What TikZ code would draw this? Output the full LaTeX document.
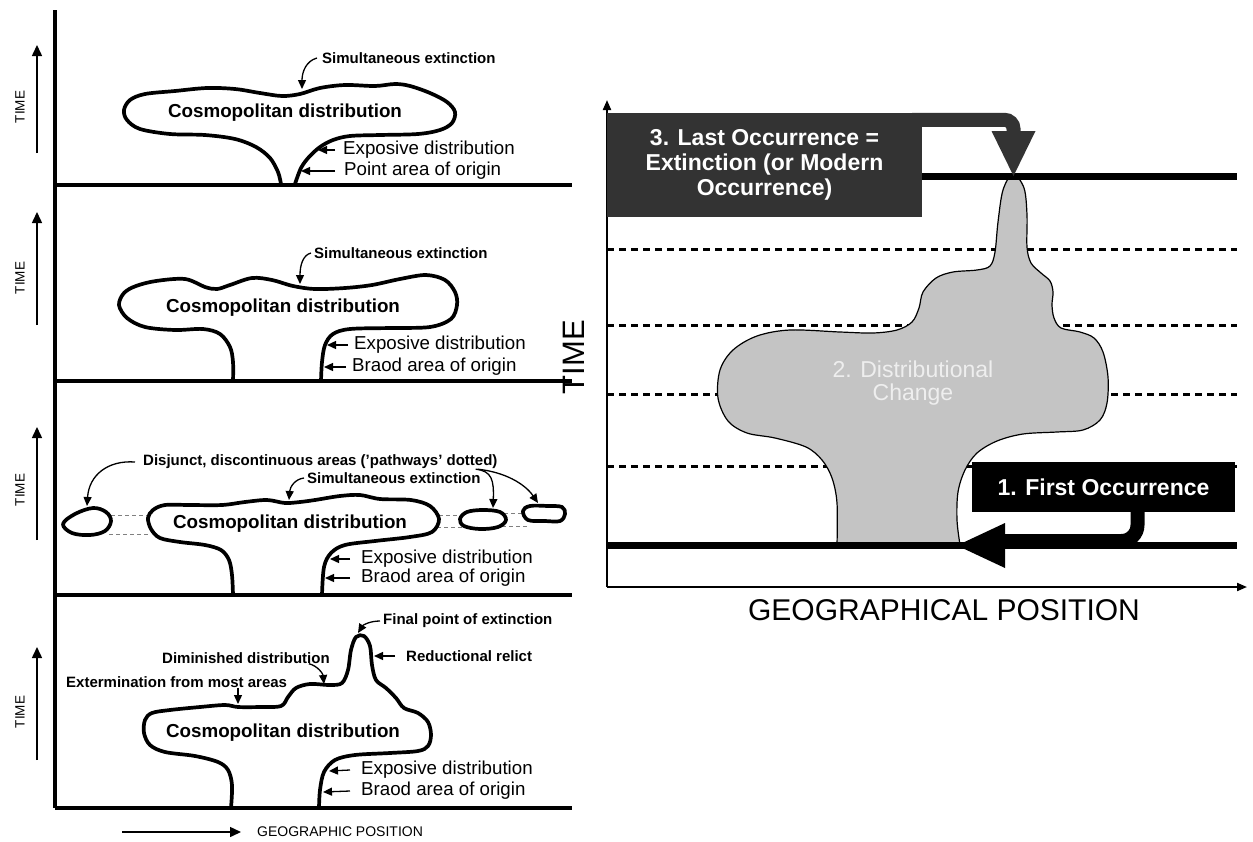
\documentclass[tikz,border=0pt]{standalone}
\usepackage{fontspec}
\setmainfont{Liberation Sans}
\usetikzlibrary{arrows.meta}
\definecolor{boxdark}{RGB}{51,51,51}
\definecolor{blobgray}{RGB}{196,196,196}
\definecolor{dtext}{RGB}{238,238,238}
\begin{document}
\begin{tikzpicture}[x=1pt,y=-1pt,
  blob/.style={line width=3.7pt, line join=round, line cap=round},
  lab/.style={inner sep=0pt, anchor=west, font=\fontsize{18.7}{20}\selectfont},
  blab/.style={inner sep=0pt, anchor=west, font=\bfseries\fontsize{15}{17}\selectfont},
  cosmo/.style={inner sep=0pt, font=\bfseries\fontsize{18.8}{20}\selectfont},
  tlab/.style={inner sep=0pt, rotate=90, font=\fontsize{13.5}{15}\selectfont},
  sarr/.style={line width=1.3pt, -{Triangle[length=9pt,width=8pt]}},
  tarr/.style={line width=1.5pt, -{Triangle[length=11pt,width=10pt]}},
  axl/.style={line width=3.7pt},
  pathdash/.style={gray, line width=0.8pt, dash pattern=on 4pt off 3pt},
  raxis/.style={line width=2pt, -{Triangle[length=10pt,width=8pt]}},
  tdash/.style={line width=3pt, dash pattern=on 7pt off 5pt},
  thickline/.style={line width=6.5pt},
  box3/.style={fill=boxdark, text=white, inner sep=0pt, minimum width=315pt, minimum height=104pt, align=center, font=\bfseries\fontsize{23}{25}\selectfont},
  box1/.style={fill=black, text=white, inner sep=0pt, minimum width=263pt, minimum height=50pt, font=\bfseries\fontsize{23}{25}\selectfont},
]
\useasboundingbox (0,0) rectangle (1253,841);

% ---------------- left: axes ----------------
\draw[axl] (55,10) -- (55,808);
\draw[axl] (55,185) -- (572,185);
\draw[axl] (55,381) -- (572,381);
\draw[axl] (55,595) -- (572,595);
\draw[axl] (55,808) -- (572,808);

% TIME arrows
\coordinate (t1s) at (37,153); \coordinate (t1e) at (37,45);
\coordinate (t2s) at (37,325); \coordinate (t2e) at (37,212);
\coordinate (t3s) at (37,540); \coordinate (t3e) at (37,427);
\coordinate (t4s) at (37,760); \coordinate (t4e) at (37,647);
\draw[tarr] (t1s) -- (t1e);
\draw[tarr] (t2s) -- (t2e);
\draw[tarr] (t3s) -- (t3e);
\draw[tarr] (t4s) -- (t4e);
\node[tlab] (time1) at (20,107) {TIME};
\node[tlab] (time2) at (20,278) {TIME};
\node[tlab] (time3) at (20,490) {TIME};
\node[tlab] (time4) at (20,712) {TIME};

% ---------------- panel 1 ----------------
\draw[blob] plot[smooth, tension=0.55] coordinates {(281,184) (278,172) (270,158) (256,147) (235,139) (205,135) (170,134) (140,129) (127,120) (124,110) (130,100) (145,94) (175,91) (207,88) (235,89) (260,93) (282,96) (300,94) (320,88) (345,85) (375,86) (395,84) (410,86) (430,93) (447,102) (455,112) (452,123) (440,130) (418,134) (380,135) (350,136) (333,140) (320,147) (309,157) (301,168) (295,184)};
\node[cosmo] (p1cos) at (285,113) {Cosmopolitan distribution};
\node[blab] (p1sim) at (322,58) {Simultaneous extinction};
\coordinate (p1simT) at (302,89);
\draw[sarr] ([xshift=-5pt]p1sim.west) .. controls (306,61) and (302,72) .. (p1simT);
\node[lab] (p1exp) at (343,150) {Exposive distribution};
\coordinate (p1expT) at (318,150);
\draw[sarr] ([xshift=-8pt]p1exp.west) -- (p1expT);
\node[lab] (p1pt) at (344,171) {Point area of origin};
\coordinate (p1ptT) at (301,171);
\draw[sarr] ([xshift=-9pt]p1pt.west) -- (p1ptT);

% ---------------- panel 2 ----------------
\draw[blob] plot[smooth, tension=0.55] coordinates {(233,381) (233,362) (230,347) (220,334) (203,329) (175,330) (145,327) (127,318) (119,305) (124,293) (136,286) (156,281) (185,279) (205,287) (217,289) (230,285) (252,278) (272,280) (293,286) (315,289) (345,288) (372,285) (400,279) (426,275) (445,280) (455,292) (457,305) (451,319) (430,327) (390,328) (350,329) (333,334) (325,345) (322,362) (321,381)};
\node[cosmo] (p2cos) at (283,308) {Cosmopolitan distribution};
\node[blab] (p2sim) at (314,253) {Simultaneous extinction};
\coordinate (p2simT) at (300,284);
\draw[sarr] ([xshift=-3pt]p2sim.west) .. controls (303,255) and (300,265) .. (p2simT);
\node[lab] (p2exp) at (354,345) {Exposive distribution};
\coordinate (p2expT) at (327,345);
\draw[sarr] ([xshift=-6pt]p2exp.west) -- (p2expT);
\node[lab] (p2br) at (352,367) {Braod area of origin};
\coordinate (p2brT) at (324,367);
\draw[sarr] ([xshift=-6pt]p2br.west) -- (p2brT);

% ---------------- panel 3 ----------------
\draw[pathdash] (111,515) -- (148,515);
\draw[pathdash] (109,534) -- (150,534);
\draw[pathdash] (439,515) -- (462,515);
\draw[pathdash] (437,527) -- (462,527);
\draw[pathdash] (504,513) -- (524,513);
\draw[pathdash] (502,526) -- (528,526);
\draw[blob] plot[smooth, tension=0.55] coordinates {(233,595) (232,575) (229,560) (221,550) (205,545) (180,542) (160,538) (151,529) (148,518) (153,510) (165,505) (190,505) (222,505) (245,502) (267,500) (285,503) (300,502) (315,500) (340,496) (360,495) (380,499) (411,500) (430,506) (439,519) (432,532) (410,537) (375,541) (345,545) (331,553) (324,567) (322,595)};
\draw[blob, fill=white] plot[smooth cycle, tension=0.6] coordinates {(63,524) (75,514) (93,508) (106,512) (111,521) (105,531) (90,535) (72,533)};
\draw[blob, fill=white] plot[smooth cycle, tension=0.6] coordinates {(460,519) (467,512) (483,510) (500,512) (506,520) (498,527) (480,529) (464,526)};
\draw[blob, fill=white] plot[smooth cycle, tension=0.6] coordinates {(523,511) (530,506) (548,506) (562,507) (565,514) (560,521) (545,521) (528,520)};
\node[cosmo] (p3cos) at (290,524) {Cosmopolitan distribution};
\node[blab] (p3dis) at (143,462) {Disjunct, discontinuous areas ('pathways' dotted)};
\coordinate (p3disL) at (87,506);
\coordinate (p3disR1) at (493,508);
\coordinate (p3disR2) at (538,503);
\draw[sarr] ([xshift=-8pt]p3dis.west) .. controls (108,460) and (89,475) .. (p3disL);
\draw[sarr] ([xshift=-22pt]p3dis.south east) .. controls (492,471) and (494,480) .. (p3disR1);
\draw[sarr] ([xshift=-20pt]p3dis.south east) .. controls (505,472) and (525,484) .. (p3disR2);
\node[blab] (p3sim) at (307,478) {Simultaneous extinction};
\coordinate (p3simT) at (289,500);
\draw[sarr] ([xshift=-3pt]p3sim.west) .. controls (295,479) and (290,487) .. (p3simT);
\node[lab] (p3exp) at (361,559) {Exposive distribution};
\coordinate (p3expT) at (330,559);
\draw[sarr] ([xshift=-11pt]p3exp.west) -- (p3expT);
\node[lab] (p3br) at (361,578) {Braod area of origin};
\coordinate (p3brT) at (325,578);
\draw[sarr] ([xshift=-11pt]p3br.west) -- (p3brT);

% ---------------- panel 4 ----------------
\draw[blob] plot[smooth, tension=0.55] coordinates {(231,808) (232,785) (228,770) (218,762) (195,756) (165,752) (150,745) (144,733) (145,720) (152,713) (170,710) (200,707) (225,705) (238,707) (260,707) (281,706) (288,697) (296,688) (310,684) (330,685) (342,683) (348,670) (351,650) (356,637) (364,636) (370,646) (372,665) (376,680) (386,688) (396,698) (404,708) (418,713) (428,722) (431,735) (428,746) (418,751) (390,753) (355,755) (335,760) (324,772) (320,790) (319,808)};
\node[cosmo] (p4cos) at (283,733) {Cosmopolitan distribution};
\node[blab] (p4fin) at (383,621) {Final point of extinction};
\coordinate (p4finT) at (358,633);
\draw[sarr] ([xshift=-3pt]p4fin.west) .. controls (370,621) and (363,625) .. (p4finT);
\node[blab] (p4red) at (406,656) {Reductional relict};
\coordinate (p4redT) at (374,656);
\draw[sarr] ([xshift=-11pt]p4red.west) -- (p4redT);
\node[blab] (p4dim) at (162,658) {Diminished distribution};
\coordinate (p4dimT) at (324,684);
\draw[sarr] ([xshift=-21pt]p4dim.south east) .. controls (318,666) and (323,674) .. (p4dimT);
\node[blab] (p4ext) at (66,682) {Extermination from most areas};
\coordinate (p4extT) at (238,704);
\draw[sarr] ([xshift=172pt]p4ext.south west) -- (p4extT);
\node[lab] (p4exp) at (361,770) {Exposive distribution};
\coordinate (p4expT) at (329,771);
\draw[sarr] ([xshift=-11pt]p4exp.west) -- (p4expT);
\node[lab] (p4br) at (361,791) {Braod area of origin};
\coordinate (p4brT) at (323,792);
\draw[sarr] ([xshift=-11pt]p4br.west) -- (p4brT);

% geographic position
\node[inner sep=0pt, anchor=west, font=\fontsize{14}{16}\selectfont] (geo) at (257,832) {GEOGRAPHIC POSITION};
\coordinate (geoS) at (122,832);
\draw[tarr] (geoS) -- ([xshift=-16pt]geo.west);

% ---------------- right panel ----------------
\draw[tdash] (607,249) -- (1237,249);
\draw[tdash] (607,325) -- (1237,325);
\draw[tdash] (607,394) -- (1237,394);
\draw[tdash] (607,466) -- (1237,466);

\filldraw[fill=blobgray, draw=black, line width=1.2pt] plot[smooth, tension=0.55] coordinates {(837,545) (837,503) (832,478) (822,460) (806,447) (775,438) (747,433) (728,421) (718,398) (720,370) (733,350) (757,336) (790,330) (840,332) (873,333) (897,330) (912,322) (919,308) (923,292) (936,278) (953,272) (977,270) (990,266) (995,252) (998,222) (1003,190) (1013,174) (1024,188) (1027,215) (1027,247) (1031,263) (1041,273) (1050,281) (1053,292) (1052,305) (1054,318) (1061,328) (1080,332) (1094,338) (1103,352) (1108,377) (1107,403) (1100,420) (1083,430) (1057,432) (1023,434) (997,441) (977,453) (965,470) (958,492) (957,520) (960,545)} -- cycle;
\node[inner sep=0pt, align=center, text=dtext, font=\fontsize{23}{23.5}\selectfont] (dist) at (913,383) {2. Distributional\\Change};

\draw[line width=7pt] (922,176.5) -- (1237,176.5);
\draw[thickline] (607,545.5) -- (1237,545.5);

\coordinate (O) at (607,587);
\coordinate (Ytop) at (607,100);
\coordinate (Xend) at (1247,587);
\draw[raxis] (O) -- (Ytop);
\draw[raxis] (O) -- (Xend);

\node[inner sep=0pt, rotate=90, font=\fontsize{31}{33}\selectfont] (bigtime) at (574,357) {TIME};
\node[inner sep=0pt, font=\fontsize{30}{32}\selectfont] (biggeo) at (944,610) {GEOGRAPHICAL POSITION};

% box 3 with connector
\node[box3] (b3) at (764.5,165) {3. Last Occurrence =\\Extinction (or Modern\\Occurrence)};
\coordinate (b3end) at (1013.5,134);
\draw[boxdark, line width=14pt, rounded corners=9pt] ([xshift=-10pt,yshift=-7pt]b3.north east) -| (b3end);
\fill[boxdark] (991.5,131) -- (1035.5,131) -- (1013.5,176) -- cycle;

% box 1 with connector
\node[box1] (b1) at (1103.5,487) {1. First Occurrence};
\coordinate (b1end) at (1003,541);
\draw[line width=14pt, rounded corners=16pt] ([xshift=34pt]b1.south) |- (b1end);
\fill (1005,523) -- (1005,568) -- (957,545.5) -- cycle;
\end{tikzpicture}
\end{document}
